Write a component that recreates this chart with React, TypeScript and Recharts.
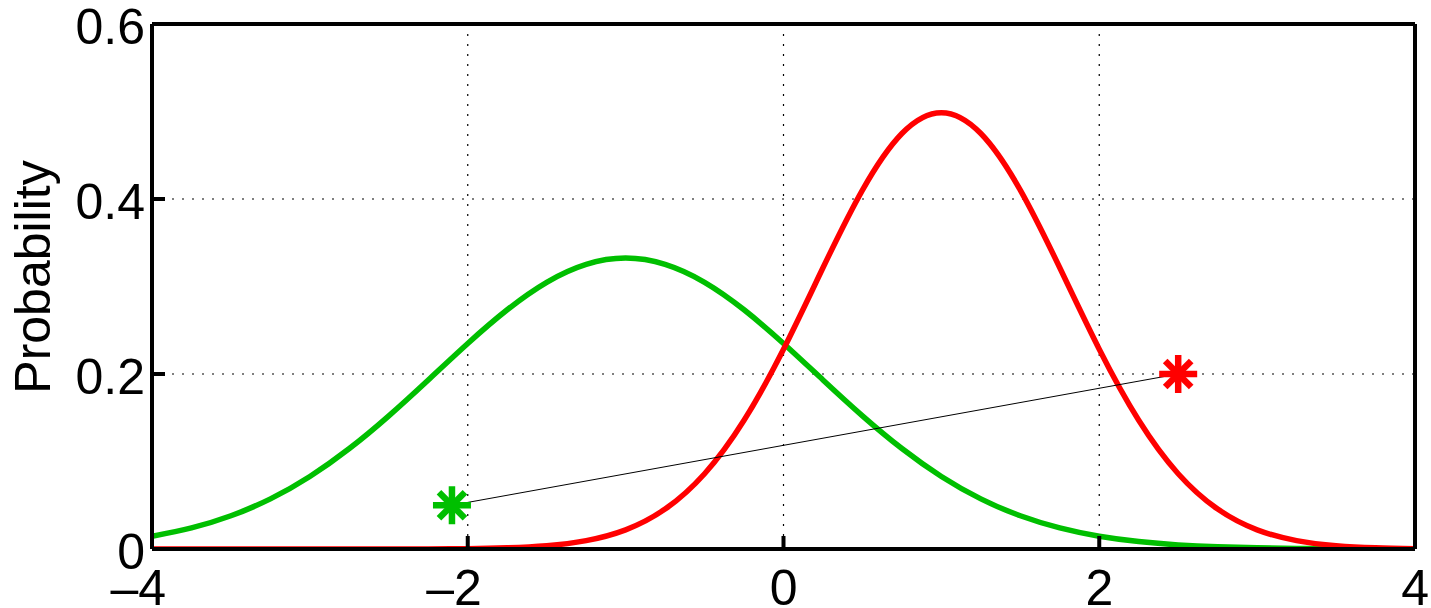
import React from "react";
import {
  CartesianGrid,
  ComposedChart,
  Line,
  Scatter,
  XAxis,
  YAxis,
} from "recharts";

// x samples and the two density curves
const xs = [
  -4, -3.75, -3.5, -3.25, -3, -2.75, -2.5, -2.25, -2, -1.75, -1.5, -1.25, -1,
  -0.75, -0.5, -0.25, 0, 0.25, 0.5, 0.75, 1, 1.25, 1.5, 1.75, 2, 2.25, 2.5,
  2.75, 3, 3.25, 3.5, 3.75, 4,
];
const greenPdf = [
  0.0146, 0.0241, 0.038, 0.0573, 0.0829, 0.1148, 0.1522, 0.1932, 0.2349,
  0.2734, 0.3048, 0.3253, 0.3325, 0.3253, 0.3048, 0.2734, 0.2349, 0.1932,
  0.1522, 0.1148, 0.0829, 0.0573, 0.038, 0.0241, 0.0146, 0.0085, 0.0047,
  0.0025, 0.0013, 0.0006, 0.0003, 0.0001, 0.0001,
];
const redPdf = [
  0, 0, 0, 0, 0, 0, 0, 0.0001, 0.0004, 0.0014, 0.0038, 0.0096, 0.0219, 0.0456,
  0.086, 0.1471, 0.2283, 0.3214, 0.4102, 0.4749, 0.4987, 0.4749, 0.4102,
  0.3214, 0.2283, 0.1471, 0.086, 0.0456, 0.0219, 0.0096, 0.0038, 0.0014,
  0.0004,
];

// the two samples joined by a thin line
const sampleX = [-2.1, 2.5];
const sampleY = [0.05, 0.2];

const xTicks = [-4, -2, 0, 2, 4];
const yTicks = [0, 0.2, 0.4, 0.6];

const data = xs.map((x, i) => ({ x, green: greenPdf[i], red: redPdf[i] }));
const samples = sampleX.map((x, i) => ({ x, y: sampleY[i] }));

const GREEN = "#00bf00";
const RED = "#ff0000";
const FONT = "'Liberation Sans', Arial, Helvetica, sans-serif";

const Asterisk = ({ cx, cy, color }: { cx?: number; cy?: number; color: string }) => {
  if (cx == null || cy == null) return <g />;
  const r = 19;
  const d = 13;
  return (
    <g stroke={color} strokeWidth={6.5}>
      <line x1={cx} y1={cy - r} x2={cx} y2={cy + r} />
      <line x1={cx - r} y1={cy} x2={cx + r} y2={cy} />
      <line x1={cx - d} y1={cy - d} x2={cx + d} y2={cy + d} />
      <line x1={cx - d} y1={cy + d} x2={cx + d} y2={cy - d} />
    </g>
  );
};

const XTick = ({ x, y, payload }: any) => {
  const v = payload.value as number;
  const label = v < 0 ? "\u2013" + Math.abs(v) : String(v);
  return (
    <text x={x + 14} y={y + 56} textAnchor="end" fontSize={50} fontFamily={FONT} fill="#000">
      {label}
    </text>
  );
};

const YTick = ({ x, y, payload }: any) => (
  <text x={x} y={y + 20} textAnchor="end" fontSize={50} fontFamily={FONT} fill="#000">
    {String(payload.value)}
  </text>
);

const axisLine = { stroke: "#000", strokeWidth: 4 };
const tickLine = { stroke: "#000", strokeWidth: 4 };

export default function App() {
  return (
    <div style={{ position: "absolute", left: 0, top: 0, width: 1431, height: 608, background: "#fff" }}>
      <ComposedChart
        width={1431}
        height={608}
        data={data}
        margin={{ top: 0, right: 0, bottom: 0, left: 0 }}
      >
        <CartesianGrid
          stroke="#000"
          strokeWidth={1.2}
          strokeDasharray="2 8"
          horizontalValues={yTicks}
          verticalValues={xTicks}
        />
        <XAxis
          dataKey="x"
          type="number"
          domain={[-4, 4]}
          ticks={xTicks}
          height={59}
          axisLine={axisLine}
          tickLine={tickLine}
          tickSize={-13}
          tickMargin={13}
          tick={<XTick />}
          allowDataOverflow
        />
        <XAxis
          xAxisId="top"
          orientation="top"
          dataKey="x"
          type="number"
          domain={[-4, 4]}
          ticks={xTicks}
          height={24}
          axisLine={axisLine}
          tickLine={tickLine}
          tickSize={-13}
          tick={false}
        />
        <YAxis
          type="number"
          domain={[0, 0.6]}
          ticks={yTicks}
          width={152}
          axisLine={axisLine}
          tickLine={tickLine}
          tickSize={-13}
          tickMargin={20}
          tick={<YTick />}
          allowDataOverflow
        />
        <YAxis
          yAxisId="right"
          orientation="right"
          type="number"
          domain={[0, 0.6]}
          ticks={yTicks}
          width={16}
          axisLine={axisLine}
          tickLine={tickLine}
          tickSize={-13}
          tick={false}
        />
        <Line
          type="natural"
          dataKey="green"
          stroke={GREEN}
          strokeWidth={5.5}
          dot={false}
          activeDot={false}
          isAnimationActive={false}
        />
        <Line
          type="natural"
          dataKey="red"
          stroke={RED}
          strokeWidth={5.5}
          dot={false}
          activeDot={false}
          isAnimationActive={false}
        />
        <Scatter
          data={samples}
          dataKey="y"
          line={{ stroke: "#000", strokeWidth: 1 }}
          shape={() => <g />}
          isAnimationActive={false}
        />
        <Scatter
          data={samples.slice(0, 1)}
          dataKey="y"
          shape={(p: any) => <Asterisk cx={p.cx} cy={p.cy} color={GREEN} />}
          isAnimationActive={false}
        />
        <Scatter
          data={samples.slice(1)}
          dataKey="y"
          shape={(p: any) => <Asterisk cx={p.cx} cy={p.cy} color={RED} />}
          isAnimationActive={false}
        />
      </ComposedChart>
      <svg
        width={1431}
        height={608}
        style={{ position: "absolute", left: 0, top: 0, pointerEvents: "none" }}
      >
        <text
          x={50}
          y={277}
          transform="rotate(-90 50 277)"
          textAnchor="middle"
          fontSize={50}
          fontFamily={FONT}
          fill="#000"
        >
          Probability
        </text>
      </svg>
    </div>
  );
}
